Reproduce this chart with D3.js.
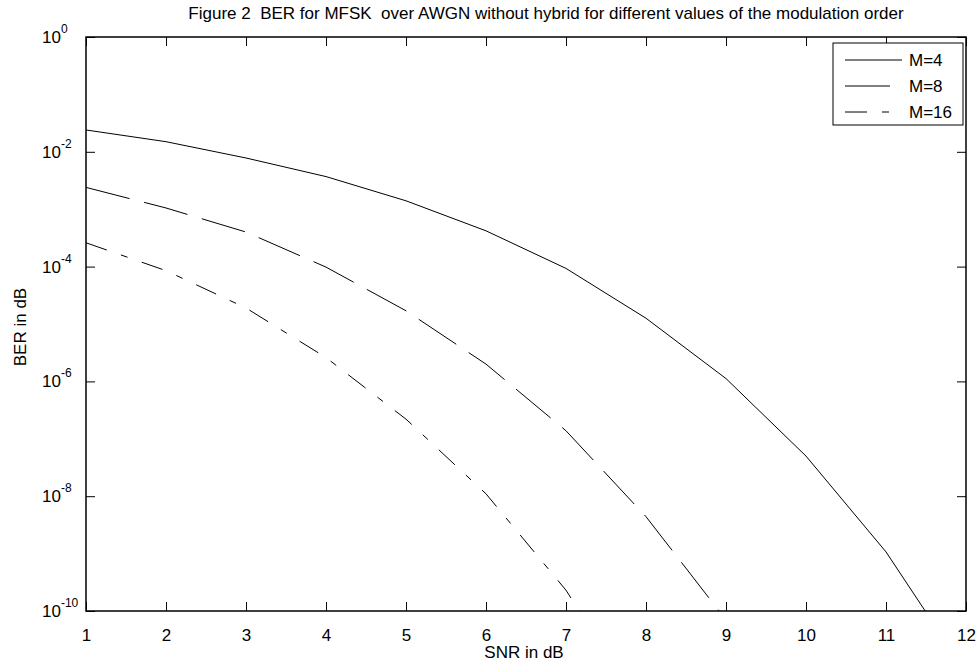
<!DOCTYPE html>
<html>
<head>
<meta charset="utf-8">
<script src="https://cdn.jsdelivr.net/npm/d3@7/dist/d3.min.js"></script>
<style>
  body { margin: 0; background: #fff; }
  text { font-family: "Liberation Sans", Arial, sans-serif; fill: #000; white-space: pre; }
</style>
</head>
<body>
<svg id="chart" width="980" height="665"></svg>
<script>
// values
const snr = [1, 2, 3, 4, 5, 6, 7, 8, 9, 10, 11, 12];
const berM4 = [2.4e-2, 1.5e-2, 7.8e-3, 3.7e-3, 1.4e-3, 4.2e-4, 9.3e-5, 1.26e-5, 1.12e-6, 5.0e-8, 1.07e-9, 8.5e-12];
const berM8 = [2.4e-3, 1.05e-3, 4.0e-4, 9.8e-5, 1.7e-5, 2.0e-6, 1.38e-7, 4.4e-9, 7.0e-11];
const berM16 = [2.6e-4, 8.5e-5, 1.9e-5, 2.6e-6, 2.2e-7, 1.1e-8, 2.3e-10, 1.6e-12];
const seriesNames = ['M=4', 'M=8', 'M=16'];
const xTicks = [1, 2, 3, 4, 5, 6, 7, 8, 9, 10, 11, 12];
const yTicks = [1, 1e-2, 1e-4, 1e-6, 1e-8, 1e-10];
const yTickExp = ['0', '-2', '-4', '-6', '-8', '-10'];

const svg = d3.select('#chart');
const pLeft = 86, pRight = 966, pTop = 37, pBottom = 611;

const x = d3.scaleLinear().domain([1, 12]).range([pLeft, pRight]);
const y = d3.scaleLog().domain([1e-10, 1]).range([pBottom, pTop]);

const series = [
  {name: seriesNames[0], vals: berM4, dash: null},
  {name: seriesNames[1], vals: berM8, dash: '45,15'},
  {name: seriesNames[2], vals: berM16, dash: '22,15,7,15'}
];

svg.append('defs').append('clipPath').attr('id', 'plotclip')
  .append('rect').attr('x', pLeft).attr('y', pTop)
  .attr('width', pRight - pLeft).attr('height', pBottom - pTop);

// curves
const line = d3.line().x((d, i) => x(snr[i])).y(d => y(d));
svg.append('g').attr('clip-path', 'url(#plotclip)')
  .selectAll('path')
  .data(series)
  .join('path')
    .attr('d', d => line(d.vals))
    .attr('fill', 'none')
    .attr('stroke', '#000')
    .attr('stroke-width', 1)
    .attr('stroke-dasharray', d => d.dash);

// axes, ticks pointing inward on all four sides
const tick = 9;
svg.append('g').attr('transform', `translate(0,${pBottom})`)
  .call(d3.axisBottom(x).tickValues(xTicks).tickSize(-tick).tickPadding(18).tickFormat(d3.format('d')))
  .call(g => g.select('.domain').remove())
  .call(g => g.selectAll('text').attr('font-size', 17).attr('font-family', null));
svg.append('g').attr('transform', `translate(0,${pTop})`)
  .call(d3.axisTop(x).tickValues(xTicks).tickSize(-tick).tickFormat(''))
  .call(g => g.select('.domain').remove());
svg.append('g').attr('transform', `translate(${pLeft},0)`)
  .call(d3.axisLeft(y).tickValues(yTicks).tickSize(-tick).tickFormat(''))
  .call(g => g.select('.domain').remove());
svg.append('g').attr('transform', `translate(${pRight},0)`)
  .call(d3.axisRight(y).tickValues(yTicks).tickSize(-tick).tickFormat(''))
  .call(g => g.select('.domain').remove());
svg.selectAll('.tick line').attr('stroke', '#000');

svg.append('rect')
  .attr('x', pLeft).attr('y', pTop)
  .attr('width', pRight - pLeft).attr('height', pBottom - pTop)
  .attr('fill', 'none').attr('stroke', '#000').attr('stroke-width', 1.5);

// y tick labels as 10^n
const yl = svg.append('g').selectAll('text').data(yTicks).join('text')
  .attr('x', 42).attr('y', d => y(d) + 6)
  .attr('font-size', 17);
yl.append('tspan').text('10');
yl.append('tspan').attr('dy', -10).attr('font-size', 12).text((d, i) => yTickExp[i]);

// legend
const lg = svg.append('g');
lg.append('rect').attr('x', 833).attr('y', 43).attr('width', 130).attr('height', 82)
  .attr('fill', '#fff').attr('stroke', '#000').attr('stroke-width', 1);
const items = lg.selectAll('g.item').data(series).join('g')
  .attr('transform', (d, i) => `translate(0,${60 + i * 26})`);
items.append('line').attr('x1', 845).attr('x2', 902)
  .attr('stroke', '#000').attr('stroke-width', 1)
  .attr('stroke-dasharray', d => d.dash);
items.append('text').attr('x', 909).attr('y', 6).attr('font-size', 17).text(d => d.name);

// titles
svg.append('text').attr('x', 546).attr('y', 19).attr('text-anchor', 'middle')
  .attr('font-size', 17)
  .text('Figure 2  BER for MFSK  over AWGN without hybrid for different values of the modulation order');
svg.append('text').attr('x', 524).attr('y', 658).attr('text-anchor', 'middle')
  .attr('font-size', 17).text('SNR in dB');
svg.append('text').attr('transform', 'translate(26,327) rotate(-90)')
  .attr('text-anchor', 'middle').attr('font-size', 17).text('BER in dB');
</script>
</body>
</html>
